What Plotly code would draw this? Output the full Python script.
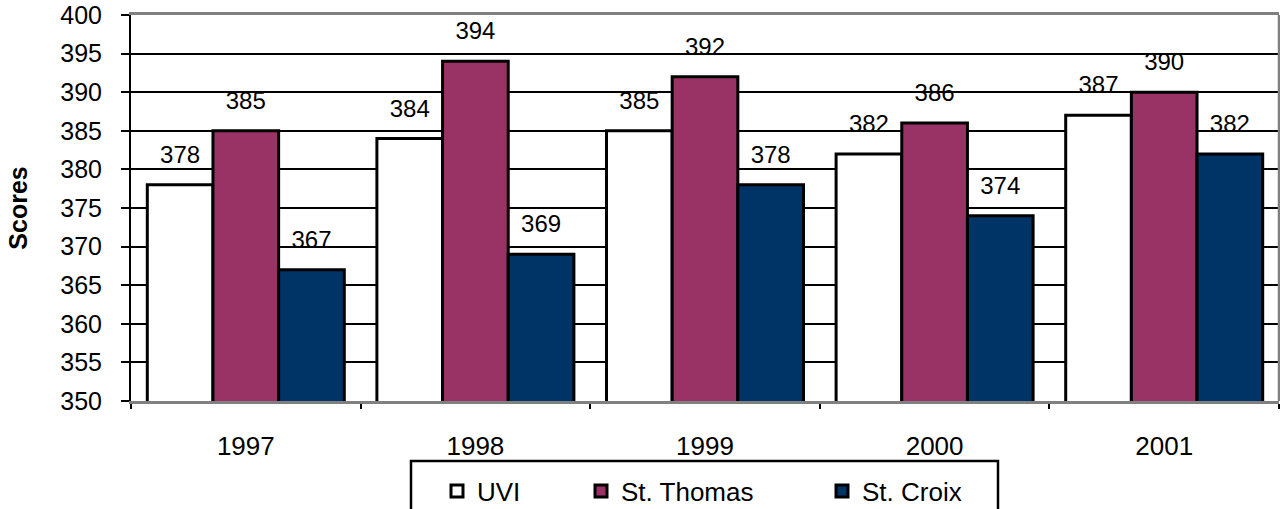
import plotly.graph_objects as go

years = ["1997", "1998", "1999", "2000", "2001"]
series_names = ["UVI", "St. Thomas", "St. Croix"]
uvi = [378, 384, 385, 382, 387]
st_thomas = [385, 394, 392, 386, 390]
st_croix = [367, 369, 378, 374, 382]
y_tick_vals = [350, 355, 360, 365, 370, 375, 380, 385, 390, 395, 400]

values = [uvi, st_thomas, st_croix]
colors = ["#FFFFFF", "#993366", "#003366"]
legends = ["legend", "legend2", "legend3"]
FONT = "Liberation Sans, Arial, sans-serif"
GAP = 0.142

L, R, T, B = 131, 1, 15, 108
W, H = 1280, 509
PW, PH = W - L - R, H - T - B

def px_x(px):
    return (px - L) / PW

def px_y(py):
    return (H - B - py) / PH

fig = go.Figure()
for i, (name, vals) in enumerate(zip(series_names, values)):
    fig.add_trace(go.Bar(
        x=years, y=vals, name=name, offsetgroup=str(i),
        marker=dict(color=colors[i], line=dict(color="black", width=3)),
        legend=legends[i], hoverinfo="skip",
    ))
for i, vals in enumerate(values):
    fig.add_trace(go.Scatter(
        x=years, y=vals, mode="markers+text", offsetgroup=str(i),
        text=[str(v) for v in vals], textposition="top center",
        textfont=dict(family=FONT, size=24, color="black"),
        marker=dict(size=24, opacity=0), showlegend=False,
        hoverinfo="skip", cliponaxis=False,
    ))

fig.update_layout(
    width=W, height=H,
    margin=dict(l=L, r=R, t=T, b=B, autoexpand=False),
    paper_bgcolor="white", plot_bgcolor="white",
    barmode="group", bargap=GAP, bargroupgap=0,
    scattermode="group", scattergap=GAP,
    font=dict(family=FONT, size=24, color="black"),
    xaxis=dict(
        type="category", tickson="boundaries", ticks="outside", ticklen=5,
        tickwidth=2, tickcolor="black", showline=True, linecolor="#808080",
        linewidth=2.5, mirror=True, showgrid=False, automargin=False,
        tickfont=dict(family=FONT, size=26, color="black"),
        ticklabelstandoff=20,
    ),
    yaxis=dict(
        range=[350, 400], tickvals=y_tick_vals, ticks="outside", ticklen=8,
        tickwidth=2, tickcolor="black", showline=True, linecolor="black",
        linewidth=2, showgrid=True, gridcolor="black", gridwidth=2,
        zeroline=False, ticklabelstandoff=14, automargin=False,
        tickfont=dict(family=FONT, size=25, color="black"),
        title=dict(text="<b>Scores</b>", font=dict(family=FONT, size=25, color="black"), standoff=26),
    ),
    shapes=[
        dict(type="line", xref="paper", yref="paper", x0=1, x1=1, y0=0, y1=1,
             line=dict(color="#808080", width=2.5)),
        dict(type="rect", xref="paper", yref="paper", x0=px_x(411), x1=px_x(998),
             y0=px_y(461), y1=px_y(540), line=dict(color="black", width=2.5)),
    ],
)
leg_common = dict(orientation="h", font=dict(family=FONT, size=26, color="black"),
                  bgcolor="rgba(0,0,0,0)", borderwidth=0, xanchor="left", yanchor="middle",
                  y=px_y(491))
fig.update_layout(
    legend=dict(leg_common, x=px_x(437)),
    legend2=dict(leg_common, x=px_x(581)),
    legend3=dict(leg_common, x=px_x(822)),
)
fig.write_html(
    "out.html",
    config={"displayModeBar": False},
    post_script="document.body.style.margin='0';document.body.style.padding='0';",
)
